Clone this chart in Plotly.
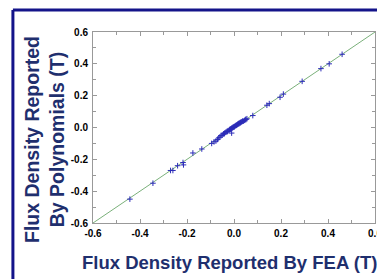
import plotly.graph_objects as go

fea = [-0.443, -0.345, -0.27, -0.26, -0.24, -0.217, -0.215, -0.175, -0.137, -0.095, -0.077,
       -0.085, -0.07, -0.065, -0.06, -0.055, -0.05, -0.045, -0.042, -0.04, -0.035, -0.03,
       -0.028, -0.025, -0.02, -0.018, -0.015, -0.012, -0.01, -0.008, -0.005, -0.003, 0.0,
       0.002, 0.005, 0.008, 0.01, 0.012, 0.015, 0.018, 0.02, 0.022, 0.025, 0.028, 0.03,
       0.033, 0.036, 0.04, 0.045, 0.05, 0.055, -0.01, 0.05, 0.08, 0.14, 0.15, 0.196, 0.21,
       0.29, 0.37, 0.405, 0.46]
poly = [-0.45, -0.35, -0.27, -0.27, -0.24, -0.22, -0.235, -0.16, -0.135, -0.10, -0.085,
        -0.09, -0.075, -0.065, -0.06, -0.05, -0.048, -0.04, -0.04, -0.035, -0.03, -0.025,
        -0.025, -0.02, -0.015, -0.012, -0.01, -0.008, -0.005, -0.003, 0.0, 0.002, 0.005,
        0.005, 0.01, 0.012, 0.015, 0.015, 0.02, 0.022, 0.025, 0.025, 0.03, 0.03, 0.035,
        0.035, 0.04, 0.04, 0.045, 0.05, 0.055, -0.035, 0.05, 0.075, 0.14, 0.15, 0.19, 0.21,
        0.29, 0.37, 0.40, 0.46]
line_x = [-0.6, 0.6]
line_y = [-0.6, 0.6]
tick_vals = [-0.6, -0.4, -0.2, 0.0, 0.2, 0.4, 0.6]
tick_text = ["-0.6", "-0.4", "-0.2", "0.0", "0.2", "0.4", "0.6"]

fig = go.Figure()
fig.add_trace(go.Scatter(x=line_x, y=line_y, mode="lines",
                         line=dict(color="#7ab07a", width=1), hoverinfo="skip"))
fig.add_trace(go.Scatter(x=fea, y=poly, mode="markers",
                         marker=dict(symbol="cross-thin", size=4, color="#2c2cb8",
                                     line=dict(color="#2c2cb8", width=1))))

axis_common = dict(
    range=[-0.6, 0.6], tickvals=tick_vals, ticktext=tick_text,
    ticks="inside", ticklen=4, tickcolor="#999999", tickwidth=1,
    minor=dict(ticks="inside", ticklen=3, tickcolor="#999999", dtick=0.1, showgrid=False),
    showline=True, linecolor="#999999", linewidth=1, mirror="ticks",
    showgrid=False, zeroline=False, automargin=False,
    tickfont=dict(family="Liberation Sans", size=10, color="black", weight="bold"),
)
fig.update_xaxes(**axis_common, ticklabelstandoff=1)
fig.update_yaxes(**axis_common, ticklabelstandoff=2)

title_font = dict(family="Liberation Sans", size=18.5, color="#1f2f6e", weight="bold")
fig.add_annotation(text="Flux Density Reported By FEA (T)", xref="paper", yref="paper",
                   x=0.485, y=-0.205, xanchor="center", yanchor="middle",
                   showarrow=False, font=title_font)
fig.add_annotation(text="Flux Density Reported<br>By Polynomials (T)", xref="paper", yref="paper",
                   x=-0.17, y=0.435, xanchor="center", yanchor="middle", textangle=-90,
                   showarrow=False, font=dict(family="Liberation Sans", size=19.5,
                                              color="#1f2f6e", weight="bold"))

border = dict(color="#14148a", width=3)
fig.add_shape(type="line", xref="paper", yref="paper", x0=-0.284, y0=1.115, x1=1.2, y1=1.115,
              line=border, layer="below")
fig.add_shape(type="line", xref="paper", yref="paper", x0=-0.284, y0=1.115, x1=-0.284, y1=-0.5,
              line=border, layer="below")

fig.update_layout(
    width=377, height=271,
    margin=dict(l=85, r=10, t=24, b=56),
    paper_bgcolor="white", plot_bgcolor="white",
    showlegend=False,
)
fig.write_html("out.html")
